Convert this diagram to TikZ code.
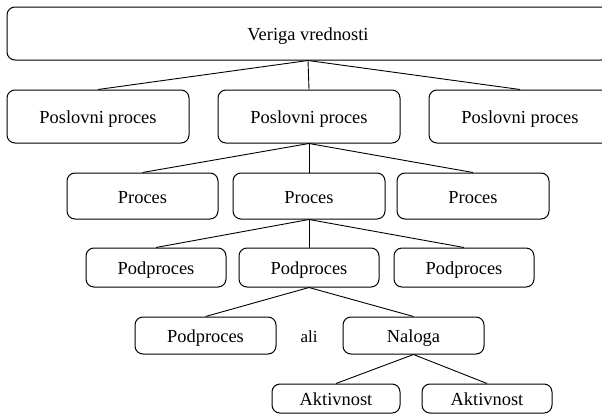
\documentclass[tikz,border=0pt]{standalone}
\usepackage{fontspec}
\setmainfont{Liberation Serif}
\begin{document}
\begin{tikzpicture}[x=1pt,y=-1pt,
  box/.style={draw,line width=1pt,rounded corners=8pt,inner sep=0pt,
    text height=15pt,text depth=1pt,
    font=\fontsize{18.4}{20}\selectfont},
  link/.style={line width=0.9pt}]
\useasboundingbox (0,0) rectangle (602,415);
% top level
\node[box,minimum width=602,minimum height=53] (vv) at (308,33.5) {Veriga vrednosti};
% business processes
\node[box,minimum width=182,minimum height=53] (pp1) at (98,116.5) {Poslovni proces};
\node[box,minimum width=182,minimum height=53] (pp2) at (309,116.5) {Poslovni proces};
\node[box,minimum width=182,minimum height=53] (pp3) at (520,116.5) {Poslovni proces};
% processes
\node[box,minimum width=151,minimum height=46] (p1) at (142.5,196) {Proces};
\node[box,minimum width=152,minimum height=46] (p2) at (309,196) {Proces};
\node[box,minimum width=152,minimum height=46] (p3) at (473,196) {Proces};
% subprocesses
\node[box,minimum width=140,minimum height=39] (sp1) at (156,267.5) {Podproces};
\node[box,minimum width=140,minimum height=39] (sp2) at (309,267.5) {Podproces};
\node[box,minimum width=140,minimum height=39] (sp3) at (464,267.5) {Podproces};
% subprocess or task
\node[box,minimum width=141,minimum height=37] (sp4) at (205.5,335.5) {Podproces};
\node[font=\fontsize{17}{20}\selectfont,text height=13pt,text depth=1pt] (ali) at (309,336) {ali};
\node[box,minimum width=141,minimum height=37] (nal) at (413.5,335.5) {Naloga};
% activities
\node[box,minimum width=128,minimum height=29] (a1) at (336,398.5) {Aktivnost};
\node[box,minimum width=130,minimum height=29] (a2) at (487,398.5) {Aktivnost};
% connectors
\foreach \p/\c in {vv/pp1,vv/pp2,vv/pp3,pp2/p1,pp2/p2,pp2/p3,p2/sp1,p2/sp2,p2/sp3,sp2/sp4,sp2/nal,nal/a1,nal/a2}
  \draw[link] (\p.south) -- (\c.north);
\end{tikzpicture}
\end{document}
